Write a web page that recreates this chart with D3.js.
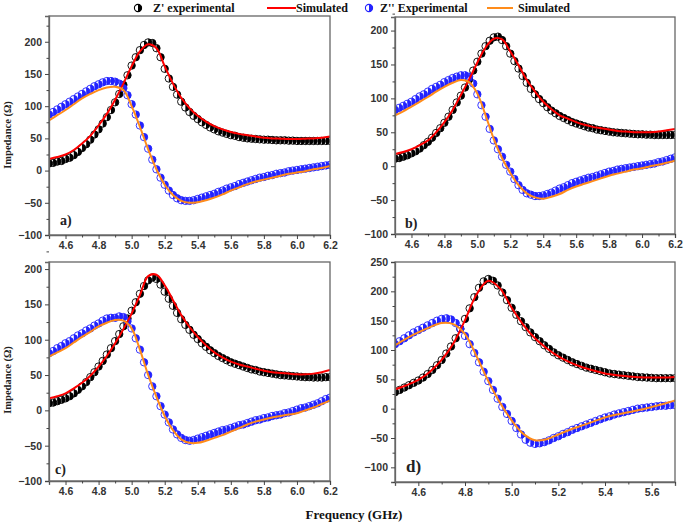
<!DOCTYPE html>
<html><head><meta charset="utf-8">
<script src="https://cdn.jsdelivr.net/npm/d3@7"></script>
<style>body{margin:0;background:#fff}</style></head>
<body>
<svg id="c" width="685" height="524"></svg>
<script>
// ---------- DATA ----------
const freqExpABC = [4.5,4.525,4.55,4.575,4.6,4.625,4.65,4.675,4.7,4.725,
 4.75,4.775,4.8,4.825,4.85,4.875,4.9,4.925,4.95,4.975,
 5.0,5.025,5.05,5.075,5.1,5.125,5.15,5.175,5.2,5.225,
 5.25,5.275,5.3,5.325,5.35,5.375,5.4,5.425,5.45,5.475,
 5.5,5.525,5.55,5.575,5.6,5.625,5.65,5.675,5.7,5.725,
 5.75,5.775,5.8,5.825,5.85,5.875,5.9,5.925,5.95,5.975,
 6.0,6.025,6.05,6.075,6.1,6.125,6.15,6.175,6.2];
const freqSimABC = [4.5,4.55,4.6,4.65,4.7,4.75,4.8,4.85,4.9,4.95,
 5.0,5.05,5.1,5.15,5.2,5.25,5.3,5.35,5.4,5.45,
 5.5,5.55,5.6,5.65,5.7,5.75,5.8,5.85,5.9,5.95,
 6.0,6.05,6.1,6.15,6.2];
const freqExpD = [4.5,4.52,4.54,4.56,4.58,4.6,4.62,4.64,4.66,4.68,
 4.7,4.72,4.74,4.76,4.78,4.8,4.82,4.84,4.86,4.88,
 4.9,4.92,4.94,4.96,4.98,5.0,5.02,5.04,5.06,5.08,
 5.1,5.12,5.14,5.16,5.18,5.2,5.22,5.24,5.26,5.28,
 5.3,5.32,5.34,5.36,5.38,5.4,5.42,5.44,5.46,5.48,
 5.5,5.52,5.54,5.56,5.58,5.6,5.62,5.64,5.66,5.68,5.7];
const freqSimD = [4.5,4.55,4.6,4.65,4.7,4.75,4.8,4.85,4.9,4.95,
 5.0,5.05,5.1,5.15,5.2,5.25,5.3,5.35,5.4,5.45,
 5.5,5.55,5.6,5.65,5.7];

// Panel a
const zReExpA = [11,12,14,15,18,20,24,29,35,41,48,56,64,73,83,94,106,119,133,148,
 163,176,187,195,199,198,190,176,158,143,130,118,107,98,91,85,80,75,71,67,
 64,61,59,57,55,54,52,51,50,49.5,49,48.5,48,48,47.5,47,47,47,46.5,46.5,
 46,46,46,46,46,46,46,46,46];
const zImExpA = [87,91,95,99,103,107,111,115,119,123,127,131,134,137,139,139,138,135,128,117,
 103,87,70,52,34,17,2,-11,-22,-31,-38,-43,-46,-47,-47,-46,-44,-42,-40,-38,
 -36,-33,-31,-28,-26,-24,-21,-19,-17,-15,-13,-11,-10,-8,-7,-5,-4,-3,-1,0,
 1,2,3,4,5,6,7,8,9];
const zReSimA = [18,21,25,32,42,54,70,88,110,135,162,185,196,190,162,135,113,97,85,76,
 69,64,60,57,55,53,51,50,49.5,49,49,49.5,50,51,53];
const zImSimA = [78,86,94,103,112,119,125,129,130,125,100,68,33,2,-22,-38,-47,-50,-49,-46,
 -42,-37,-31,-26,-21,-17,-14,-11,-8,-5,-3,-1,2,4,7];

// Panel b
const zReExpB = [11,12,14,16,19,22,26,31,36,42,49,56,64,73,83,94,104,116,128,141,
 154,166,177,185,190,191,186,177,166,155,144,133,123,114,106,99,93,87,82,78,
 74,71,68,65,63,61,59,57,56,54,53,52,51,50,49.5,49,48.5,48,47.5,47,
 47,46.5,46.5,46,46,46,46,46,46];
const zImExpB = [83,86,89,92,95,99,103,106,110,114,117,120,124,127,130,132,134,134,132,122,
 106,90,73,55,38,25,14,2,-8,-19,-28,-35,-40,-42,-44,-44,-43,-41,-39,-36,
 -33,-31,-28,-25,-23,-21,-19,-17,-16,-14,-12,-10,-8,-7,-5,-4,-3,-2,-1,0,
 1,2,3,4,6,7,9,11,13];
const zReSimB = [18,21,25,31,38,50,65,83,105,128,153,175,188,187,169,149,127,110,95,84,
 75,70,65,61,58,56,54,52,51,50,50,50,51,53,55];
const zImSimB = [75,81,88,95,102,110,117,123,127,124,107,75,40,12,-10,-28,-40,-46,-48,-45,
 -41,-35,-30,-26,-22,-18,-14,-11,-8,-5,-3,0,2,5,8];

// Panel c
const zReExpC = [10,11,13,15,17,20,24,29,34,40,47,54,62,70,79,88,98,108,119,130,
 141,153,165,176,184,188,186,178,168,158,148,138,129,121,114,107,101,95,90,85,
 81,77,74,71,68,66,64,62,60,58,57,55,54,53,52,51,50,49.5,49,48.5,
 48,47.5,47,47,46.5,46.5,46.5,47,47];
const zImExpC = [81,84,88,91,95,98,102,106,109,113,116,120,123,127,130,131,131,133,132,126,
 116,102,86,68,50,34,20,6,-6,-17,-27,-34,-39,-42,-43,-42,-40,-38,-36,-34,
 -32,-30,-28,-27,-25,-23,-21,-20,-18,-16,-14,-13,-11,-10,-8,-7,-6,-4,-3,-1,
 1,3,4,6,8,10,13,16,18];
const zReSimC = [17,20,24,31,39,49,62,77,95,115,137,163,190,192,177,156,135,118,104,92,
 82,75,69,65,62,59,56,54,53,52,51,51,52,54,57];
const zImSimC = [76,82,88,96,104,111,119,124,128,127,116,86,50,19,-8,-28,-41,-46,-46,-43,
 -39,-35,-30,-25,-20,-16,-13,-10,-8,-6,-4,0,4,9,14];

// Panel d
const zReExpD = [28,32,36,40,44,48,53,59,66,74,83,94,106,120,136,153,171,190,206,217,
 221,218,210,198,185,172,160,149,139,130,122,115,108,102,96,91,87,83,79,76,
 73,70,68,66,64,62,60,59,58,57,56,55,54,53.5,53,52.5,52,52,52,52,52];
const zImExpD = [110,115,120,125,130,134,138,142,146,150,153,154,152,146,136,124,110,95,79,63,
 47,32,17,3,-9,-21,-33,-44,-53,-58,-60,-59,-57,-54,-50,-47,-43,-40,-36,-33,
 -30,-27,-24,-21,-18,-15,-13,-10,-8,-6,-4,-2,0,1,2,3,4,5,5,6,6];
const zReSimD = [33,40,49,63,83,111,151,195,218,205,172,143,120,103,89,79,71,65,60,57,
 55,53.5,53,53,54];
const zImSimD = [108,120,130,139,146,144,127,89,47,10,-20,-43,-54,-52,-44,-36,-29,-22,-15,-10,
 -6,-2,3,8,14];

// Ticks
const xTicksABC = [4.6,4.8,5.0,5.2,5.4,5.6,5.8,6.0,6.2];
const xMinorABC = [4.5,4.7,4.9,5.1,5.3,5.5,5.7,5.9,6.1];
const xTicksD = [4.6,4.8,5.0,5.2,5.4,5.6];
const xMinorD = [4.5,4.7,4.9,5.1,5.3,5.5,5.7];
const yTicksABC = [-100,-50,0,50,100,150,200];
const yMinorABC = [-75,-25,25,75,125,175,225];
const yTicksD = [-100,-50,0,50,100,150,200,250];
const yMinorD = [-125,-75,-25,25,75,125,175,225];

const legendLabels = ["Z' experimental","Simulated","Z'' Experimental","Simulated"];
const panelLabels = ["a)","b)","c)","d)"];
const xTitle = "Frequency (GHz)";
const yTitle = "Impedance (\u03A9)";

// ---------- DRAW ----------
const svg = d3.select('#c');
const BLACK = '#000', BLUE = '#2323ff', RED = '#ff0000', ORANGE = '#ff8c1a', AX = '#666';

const panels = [
 {fE:freqExpABC,fS:freqSimABC,reE:zReExpA,reS:zReSimA,imE:zImExpA,imS:zImSimA,
  xd:[4.5,6.2],yd:[-100,240],xt:xTicksABC,xm:xMinorABC,yt:yTicksABC,ym:yMinorABC,
  box:[49,330,16,235],lab:[60,225,14],yTitle:135},
 {fE:freqExpABC,fS:freqSimABC,reE:zReExpB,reS:zReSimB,imE:zImExpB,imS:zImSimB,
  xd:[4.5,6.2],yd:[-100,220],xt:xTicksABC,xm:xMinorABC,yt:yTicksABC,ym:yMinorABC,
  box:[395,675,17,234],lab:[405,228,14],yTitle:null},
 {fE:freqExpABC,fS:freqSimABC,reE:zReExpC,reS:zReSimC,imE:zImExpC,imS:zImSimC,
  xd:[4.5,6.2],yd:[-100,210],xt:xTicksABC,xm:xMinorABC,yt:yTicksABC,ym:yMinorABC,
  box:[49,330,262,481],lab:[55,474,14],yTitle:380},
 {fE:freqExpD,fS:freqSimD,reE:zReExpD,reS:zReSimD,imE:zImExpD,imS:zImSimD,
  xd:[4.5,5.7],yd:[-125,250],xt:xTicksD,xm:xMinorD,yt:yTicksD,ym:yMinorD,
  box:[395,675,262,482],lab:[406,472,17],yTitle:null}
];

const halfPath = r => `M0,${-r}A${r},${r} 0 0 1 0,${r}Z`;
const R = 3.7;

function drawMarkers(g, fs, vs, x, y, col) {
  const pts = g.append('g').selectAll('g').data(fs.map((f,i)=>[f,vs[i]])).join('g')
    .attr('transform', d => `translate(${x(d[0])},${y(d[1])})`);
  pts.append('circle').attr('r', R).attr('fill','none').attr('stroke', col).attr('stroke-width', 0.9);
  pts.append('path').attr('d', halfPath(R)).attr('fill', col);
}

panels.forEach((p, idx) => {
  const [x0,x1,y0,y1] = p.box;
  const x = d3.scaleLinear().domain(p.xd).range([x0,x1]);
  const y = d3.scaleLinear().domain(p.yd).range([y1,y0]);
  const g = svg.append('g');
  const cid = 'clip'+idx;
  svg.append('clipPath').attr('id',cid).append('rect')
    .attr('x',x0).attr('y',y0).attr('width',x1-x0).attr('height',y1-y0);
  const plot = g.append('g').attr('clip-path',`url(#${cid})`);

  drawMarkers(plot, p.fE, p.reE, x, y, BLACK);
  drawMarkers(plot, p.fE, p.imE, x, y, BLUE);
  const line = d3.line().x((d,i)=>x(p.fS[i])).y(d=>y(d)).curve(d3.curveCatmullRom.alpha(0.5));
  plot.append('path').attr('d', line(p.reS)).attr('fill','none').attr('stroke',RED).attr('stroke-width',2);
  plot.append('path').attr('d', line(p.imS)).attr('fill','none').attr('stroke',ORANGE).attr('stroke-width',2);

  // frame
  g.append('rect').attr('x',x0).attr('y',y0).attr('width',x1-x0).attr('height',y1-y0)
    .attr('fill','none').attr('stroke',AX).attr('stroke-width',1.3);

  // axes
  const fmtX = d3.format('.1f');
  g.append('g').attr('transform',`translate(0,${y1})`)
    .call(d3.axisBottom(x).tickValues(p.xt).tickFormat(fmtX).tickSize(4).tickPadding(3));
  g.append('g').attr('transform',`translate(0,${y1})`)
    .call(d3.axisBottom(x).tickValues(p.xm).tickFormat('').tickSize(2.5))
    .call(s=>s.select('.domain').remove());
  g.append('g').attr('transform',`translate(${x0},0)`)
    .call(d3.axisLeft(y).tickValues(p.yt).tickFormat(d3.format('d')).tickSize(4).tickPadding(3));
  g.append('g').attr('transform',`translate(${x0},0)`)
    .call(d3.axisLeft(y).tickValues(p.ym).tickFormat('').tickSize(2.5))
    .call(s=>s.select('.domain').remove());
  g.selectAll('.domain').attr('stroke',AX).attr('stroke-width',1.3);
  g.selectAll('.tick line').attr('stroke','#444').attr('stroke-width',1);
  g.selectAll('.tick text').attr('font-family','Liberation Sans, Arial, sans-serif')
    .attr('font-weight','bold').attr('font-size',10.5).attr('fill','#333');

  // panel label
  g.append('text').attr('x',p.lab[0]).attr('y',p.lab[1]).text(panelLabels[idx])
    .attr('font-family','Liberation Serif, serif').attr('font-weight','bold')
    .attr('font-size',p.lab[2]).attr('fill','#222');

  if (p.yTitle !== null) {
    g.append('text').attr('transform',`translate(11,${p.yTitle}) rotate(-90)`)
      .attr('text-anchor','middle').text(yTitle)
      .attr('font-family','Liberation Serif, serif').attr('font-weight','bold')
      .attr('font-size',10.5).attr('fill','#222');
  }
});

// x title
svg.append('text').attr('x',354).attr('y',519).attr('text-anchor','middle').text(xTitle)
  .attr('font-family','Liberation Serif, serif').attr('font-weight','bold').attr('font-size',13).attr('fill','#111');

// legend
const lg = svg.append('g').attr('font-family','Liberation Serif, serif').attr('font-weight','bold')
  .attr('font-size',12).attr('fill','#111');
function legMarker(cx, col) {
  const m = lg.append('g').attr('transform',`translate(${cx},8)`);
  m.append('circle').attr('r',3.6).attr('fill','#fff').attr('stroke',col).attr('stroke-width',1.1);
  m.append('path').attr('d',halfPath(3.6)).attr('fill',col);
}
legMarker(138, BLACK);
lg.append('text').attr('x',153).attr('y',12).text(legendLabels[0]);
lg.append('line').attr('x1',267).attr('x2',296).attr('y1',8).attr('y2',8).attr('stroke',RED).attr('stroke-width',2);
lg.append('text').attr('x',296).attr('y',12).text(legendLabels[1]);
legMarker(369, BLUE);
lg.append('text').attr('x',380).attr('y',12).text(legendLabels[2]);
lg.append('line').attr('x1',487).attr('x2',513).attr('y1',8).attr('y2',8).attr('stroke',ORANGE).attr('stroke-width',2);
lg.append('text').attr('x',518).attr('y',12).text(legendLabels[3]);
</script>
</body></html>
